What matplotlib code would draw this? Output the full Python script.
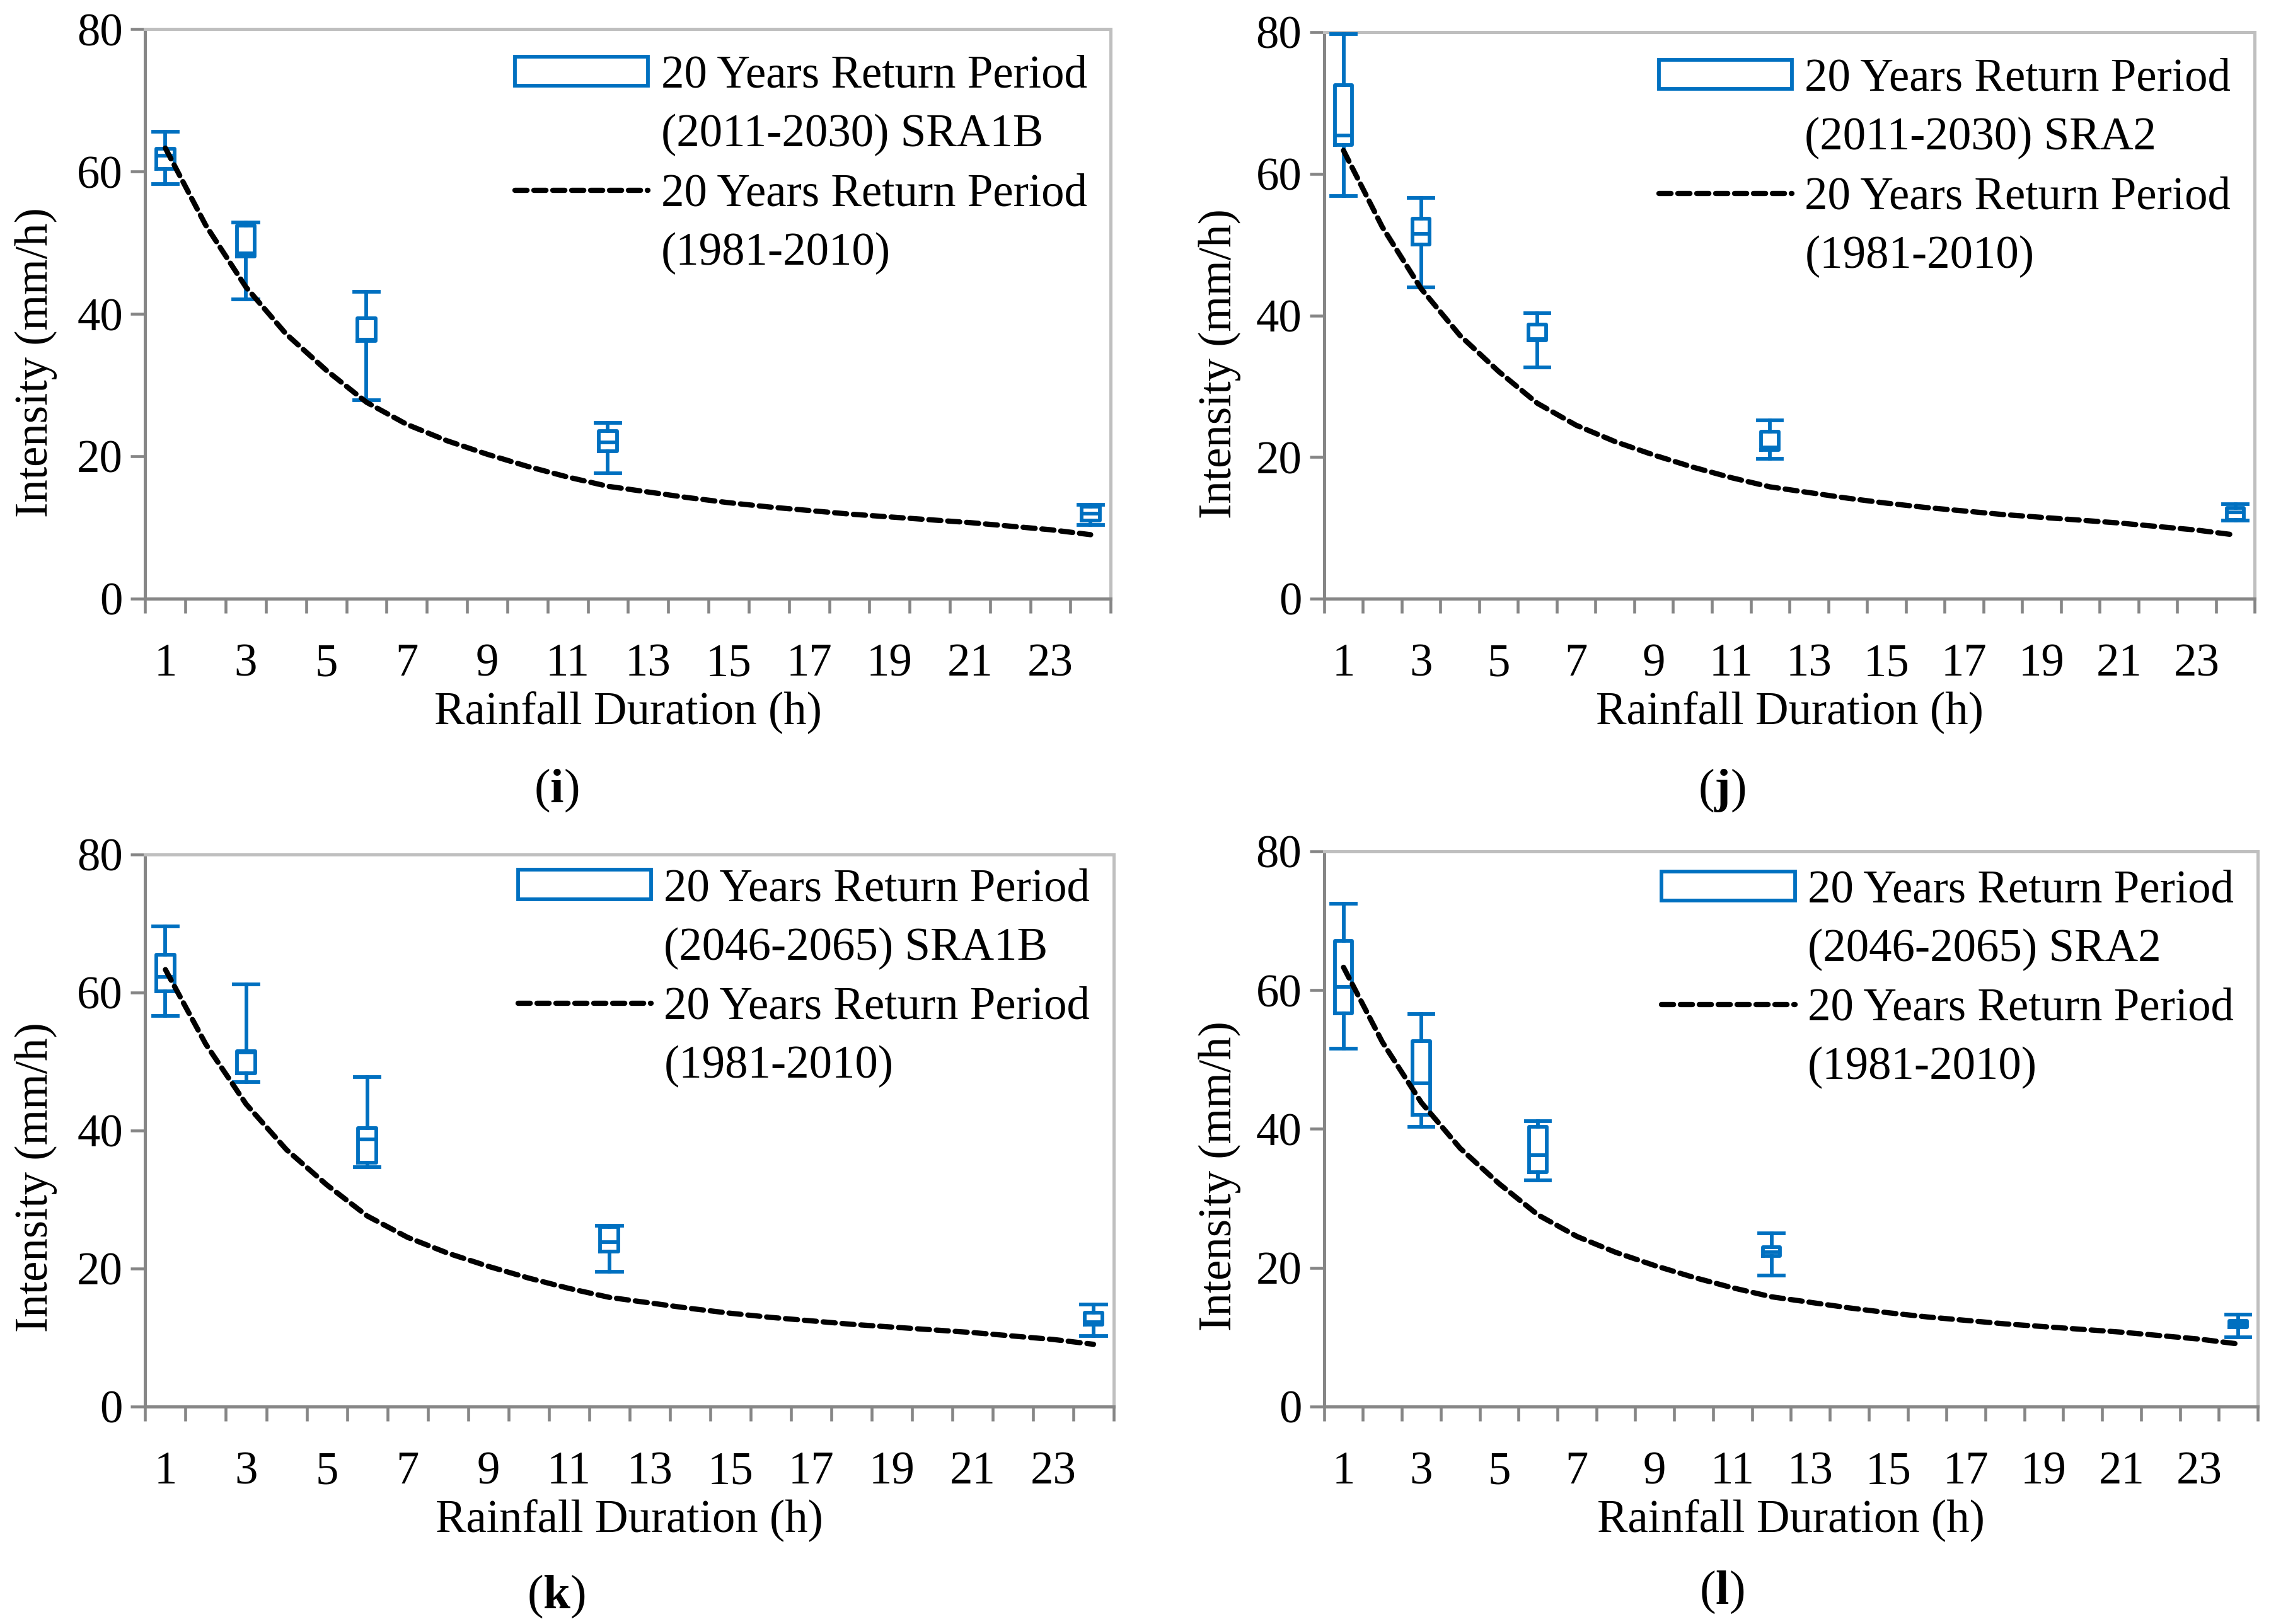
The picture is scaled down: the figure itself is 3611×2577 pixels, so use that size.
import matplotlib
matplotlib.use('Agg')
import matplotlib.pyplot as plt
from matplotlib.patches import Patch
from matplotlib.lines import Line2D
from matplotlib.ticker import FixedLocator

plt.rcParams['font.family'] = ['Liberation Serif', 'DejaVu Serif']
plt.rcParams['mathtext.fontset'] = 'custom'
plt.rcParams['mathtext.rm'] = 'Liberation Serif'
plt.rcParams['mathtext.bf'] = 'Liberation Serif:bold'

# rainfall durations (h) of the projected boxes
durations = [1, 3, 6, 12, 24]

# 20 years return period (1981-2010)
base_hours = [1, 2, 3, 4, 5, 6, 7, 8, 9, 10, 11, 12,
              13, 14, 15, 16, 17, 18, 19, 20, 21, 22, 23, 24]
base_intensity = [63.3, 52.5, 43.8, 37.2, 32.1, 27.6, 24.5, 22.2, 20.3, 18.6, 17.1, 15.8,
                  15.0, 14.2, 13.5, 12.9, 12.4, 11.9, 11.5, 11.1, 10.7, 10.2, 9.7, 9.0]

# (i) 2011-2030 SRA1B
i_low = [58.3, 42.1, 27.9, 17.6, 10.4]
i_q1 = [60.4, 48.1, 36.2, 20.7, 11.0]
i_med = [62.2, 48.5, 36.4, 22.0, 12.0]
i_q3 = [63.2, 52.4, 39.4, 23.6, 12.9]
i_high = [65.6, 52.9, 43.1, 24.7, 13.2]

# (j) 2011-2030 SRA2
j_low = [56.9, 44.0, 32.7, 19.8, 11.05]
j_q1 = [64.1, 50.0, 36.5, 21.0, 11.1]
j_med = [65.4, 51.5, 36.7, 21.4, 12.2]
j_q3 = [72.5, 53.7, 38.7, 23.6, 12.8]
j_high = [79.7, 56.6, 40.3, 25.2, 13.4]

# (k) 2046-2065 SRA1B
k_low = [56.6, 47.0, 34.7, 19.5, 10.2]
k_q1 = [60.2, 48.3, 35.3, 22.4, 11.8]
k_med = [62.3, 51.3, 38.7, 23.8, 12.2]
k_q3 = [65.5, 51.5, 40.3, 26.0, 13.6]
k_high = [69.6, 61.2, 47.7, 26.2, 14.8]

# (l) 2046-2065 SRA2
l_low = [51.6, 40.3, 32.6, 18.9, 10.0]
l_q1 = [56.7, 42.0, 33.8, 21.7, 11.4]
l_med = [60.5, 46.6, 36.2, 22.2, 11.9]
l_q3 = [67.1, 52.7, 40.3, 23.0, 12.3]
l_high = [72.5, 56.6, 41.1, 25.0, 13.2]

x_labels = ['1', '3', '5', '7', '9', '11', '13', '15', '17', '19', '21', '23']
y_ticks = [0, 20, 40, 60, 80]

BLUE = '#0070C0'
DARK = '#868686'
LIGHT = '#BFBFBF'
FS = 17.5
DASH = (0, (2.3, 1.3))


def draw_panel(ax, low, q1, med, q3, high, future_label, leg_y, ylab_x):
    stats = []
    for a, b, c, d, e in zip(low, q1, med, q3, high):
        stats.append(dict(whislo=a, q1=b, med=c, q3=d, whishi=e))
    props = dict(color=BLUE, linewidth=1.4)
    ax.bxp(stats, positions=durations, widths=0.45, capwidths=0.62,
           showfliers=False, manage_ticks=False,
           boxprops=props, whiskerprops=props, capprops=props,
           medianprops=props, zorder=3)
    ax.plot(base_hours, base_intensity, color='black', linewidth=2.0,
            linestyle=DASH, dash_capstyle='round', solid_joinstyle='round', zorder=4)

    ax.set_xlim(0.5, 24.5)
    ax.set_ylim(0, 80)
    ax.xaxis.set_major_locator(FixedLocator(base_hours[::2]))
    ax.set_xticklabels(x_labels)
    ax.xaxis.set_minor_locator(FixedLocator([h - 0.5 for h in base_hours] + [24.5]))
    ax.set_yticks(y_ticks)
    ax.tick_params(axis='x', which='major', length=0, pad=17, labelsize=FS)
    ax.tick_params(axis='x', which='minor', length=5.5, width=1.1, color=DARK)
    ax.tick_params(axis='y', length=5.5, width=1.1, color=DARK, pad=3, labelsize=FS)
    ax.spines['left'].set_color(DARK)
    ax.spines['bottom'].set_color(DARK)
    ax.spines['top'].set_color(LIGHT)
    ax.spines['right'].set_color(LIGHT)
    for s in ax.spines.values():
        s.set_linewidth(1.2)

    ax.set_xlabel('Rainfall Duration (h)', fontsize=FS, labelpad=2)
    ax.set_ylabel('Intensity (mm/h)', fontsize=FS)
    ax.yaxis.set_label_coords(ylab_x, 0.415)

    # handles sit beside the first line of each two-line entry
    blank = Patch(facecolor='none', edgecolor='none')
    handles = [Patch(facecolor='white', edgecolor=BLUE, linewidth=1.4),
               blank,
               Line2D([], [], color='black', linewidth=2.0,
                      linestyle=DASH, dash_capstyle='round'),
               blank]
    labels = ['20 Years Return Period', future_label,
              '20 Years Return Period', '(1981-2010)']
    ax.legend(handles, labels, loc='upper right', frameon=False,
              fontsize=FS, handlelength=2.9, handleheight=0.6,
              handletextpad=0.28, labelspacing=0.36,
              borderaxespad=0.2, bbox_to_anchor=(1.004, leg_y))


fig = plt.figure(figsize=(12.04, 8.59), dpi=300)
ax_i = fig.add_axes([0.0638, 0.6313, 0.4241, 0.3507])
ax_j = fig.add_axes([0.5816, 0.6313, 0.4088, 0.3489])
ax_k = fig.add_axes([0.0638, 0.1340, 0.4254, 0.3399])
ax_l = fig.add_axes([0.5816, 0.1340, 0.4101, 0.3417])

draw_panel(ax_i, i_low, i_q1, i_med, i_q3, i_high, '(2011-2030) SRA1B', 1.003, -0.091)
draw_panel(ax_j, j_low, j_q1, j_med, j_q3, j_high, '(2011-2030) SRA2', 1.003, -0.089)
draw_panel(ax_k, k_low, k_q1, k_med, k_q3, k_high, '(2046-2065) SRA1B', 1.025, -0.091)
draw_panel(ax_l, l_low, l_q1, l_med, l_q3, l_high, '(2046-2065) SRA2', 1.017, -0.089)

fig.text(0.2443, 1 - 541 / 1112, r'($\mathbf{i}$)', ha='center', va='center', fontsize=FS + 1)
fig.text(0.7564, 1 - 541 / 1112, r'($\mathbf{j}$)', ha='center', va='center', fontsize=FS + 1)
fig.text(0.2443, 1 - 1093 / 1112, r'($\mathbf{k}$)', ha='center', va='center', fontsize=FS + 1)
fig.text(0.7564, 1 - 1090 / 1112, r'($\mathbf{l}$)', ha='center', va='center', fontsize=FS + 1)

fig.savefig('out.png', dpi=300, facecolor='white')
